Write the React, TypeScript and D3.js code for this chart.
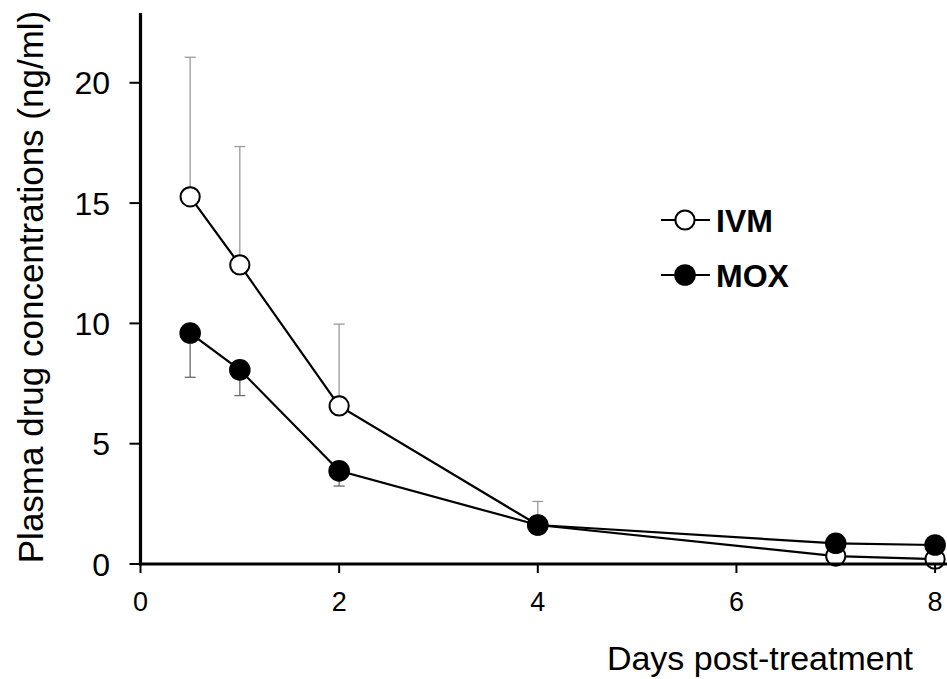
import React from "react";
import * as d3 from "d3";

const days = [0.5, 1, 2, 4, 7, 8];
const ivmMean = [15.26, 12.43, 6.57, 1.62, 0.33, 0.2];
const ivmSd = [5.8, 4.92, 3.4, 0.98, 0, 0];
const moxMean = [9.6, 8.07, 3.87, 1.62, 0.86, 0.79];
const moxSd = [1.84, 1.07, 0.63, 0, 0, 0];
const xTicks = [0, 2, 4, 6, 8];
const yTicks = [0, 5, 10, 15, 20];
const legendLabels = ["IVM", "MOX"];
const xTitle = "Days post-treatment";
const yTitle = "Plasma drug concentrations (ng/ml)";

const W = 947;
const H = 679;
const FONT = "'Liberation Sans', Arial, Helvetica, sans-serif";

export default function App() {
  const x = d3.scaleLinear().domain([0, 8.12]).range([140.5, 947]);
  const y = d3.scaleLinear().domain([0, 22.9]).range([564, 13]);
  const line = d3
    .line<number>()
    .x((_, i) => x(days[i]))
    .y((d) => y(d));

  const ivmPts = days.map((d, i) => ({ d, m: ivmMean[i], s: ivmSd[i] }));
  const moxPts = days.map((d, i) => ({ d, m: moxMean[i], s: moxSd[i] }));

  return (
    <svg
      width={W}
      height={H}
      style={{ position: "absolute", left: 0, top: 0, background: "#fff" }}
      fontFamily={FONT}
    >
      {/* error bars IVM (up) */}
      {ivmPts
        .filter((p) => p.s > 0)
        .map((p, i) => (
          <g key={"ie" + i} stroke="#9a9a9a" strokeWidth={1.3}>
            <line x1={x(p.d)} x2={x(p.d)} y1={y(p.m)} y2={y(p.m + p.s)} />
            <line x1={x(p.d) - 5.5} x2={x(p.d) + 5.5} y1={y(p.m + p.s)} y2={y(p.m + p.s)} />
          </g>
        ))}
      {/* error bars MOX (down) */}
      {moxPts
        .filter((p) => p.s > 0)
        .map((p, i) => (
          <g key={"me" + i} stroke="#6a6a6a" strokeWidth={1.3}>
            <line x1={x(p.d)} x2={x(p.d)} y1={y(p.m)} y2={y(p.m - p.s)} />
            <line x1={x(p.d) - 5.5} x2={x(p.d) + 5.5} y1={y(p.m - p.s)} y2={y(p.m - p.s)} />
          </g>
        ))}

      {/* lines */}
      <path d={line(ivmMean) || ""} fill="none" stroke="#000" strokeWidth={2.2} />
      <path d={line(moxMean) || ""} fill="none" stroke="#000" strokeWidth={2.2} />

      {/* markers */}
      {ivmPts.map((p, i) => (
        <circle key={"ic" + i} cx={x(p.d)} cy={y(p.m)} r={9.6} fill="#fff" stroke="#000" strokeWidth={2} />
      ))}
      {moxPts.map((p, i) => (
        <circle key={"mc" + i} cx={x(p.d)} cy={y(p.m)} r={10.8} fill="#000" />
      ))}

      {/* axes */}
      <line x1={x(0)} x2={x(0)} y1={y(22.9)} y2={y(0) + 1.5} stroke="#000" strokeWidth={3.2} />
      <line x1={x(0) - 1.5} x2={W} y1={y(0)} y2={y(0)} stroke="#000" strokeWidth={3.2} />
      {yTicks.map((t) => (
        <g key={"yt" + t}>
          <line x1={x(0) - 11} x2={x(0)} y1={y(t)} y2={y(t)} stroke="#000" strokeWidth={2} />
          <text x={110} y={y(t)} dy="0.36em" textAnchor="end" fontSize={32} fill="#000">
            {t}
          </text>
        </g>
      ))}
      {xTicks.map((t) => (
        <g key={"xt" + t}>
          <line x1={x(t)} x2={x(t)} y1={y(0)} y2={y(0) + 9} stroke="#000" strokeWidth={2} />
          <text x={x(t)} y={611} textAnchor="middle" fontSize={27} fill="#000">
            {t}
          </text>
        </g>
      ))}

      {/* titles */}
      <text x={913} y={670} textAnchor="end" fontSize={34} fill="#000">
        {xTitle}
      </text>
      <text
        transform={`translate(43, 287) rotate(-90)`}
        textAnchor="middle"
        fontSize={35}
        fill="#000"
      >
        {yTitle}
      </text>

      {/* legend */}
      {legendLabels.map((lab, i) => {
        const ly = 220 + i * 55;
        return (
          <g key={lab}>
            <line x1={661} x2={710} y1={ly} y2={ly} stroke="#000" strokeWidth={2.2} />
            {i === 0 ? (
              <circle cx={685} cy={ly} r={9.6} fill="#fff" stroke="#000" strokeWidth={2} />
            ) : (
              <circle cx={685} cy={ly} r={10.8} fill="#000" />
            )}
            <text x={716} y={ly + 11.5} fontSize={32} fontWeight="bold" fill="#000">
              {lab}
            </text>
          </g>
        );
      })}
    </svg>
  );
}
